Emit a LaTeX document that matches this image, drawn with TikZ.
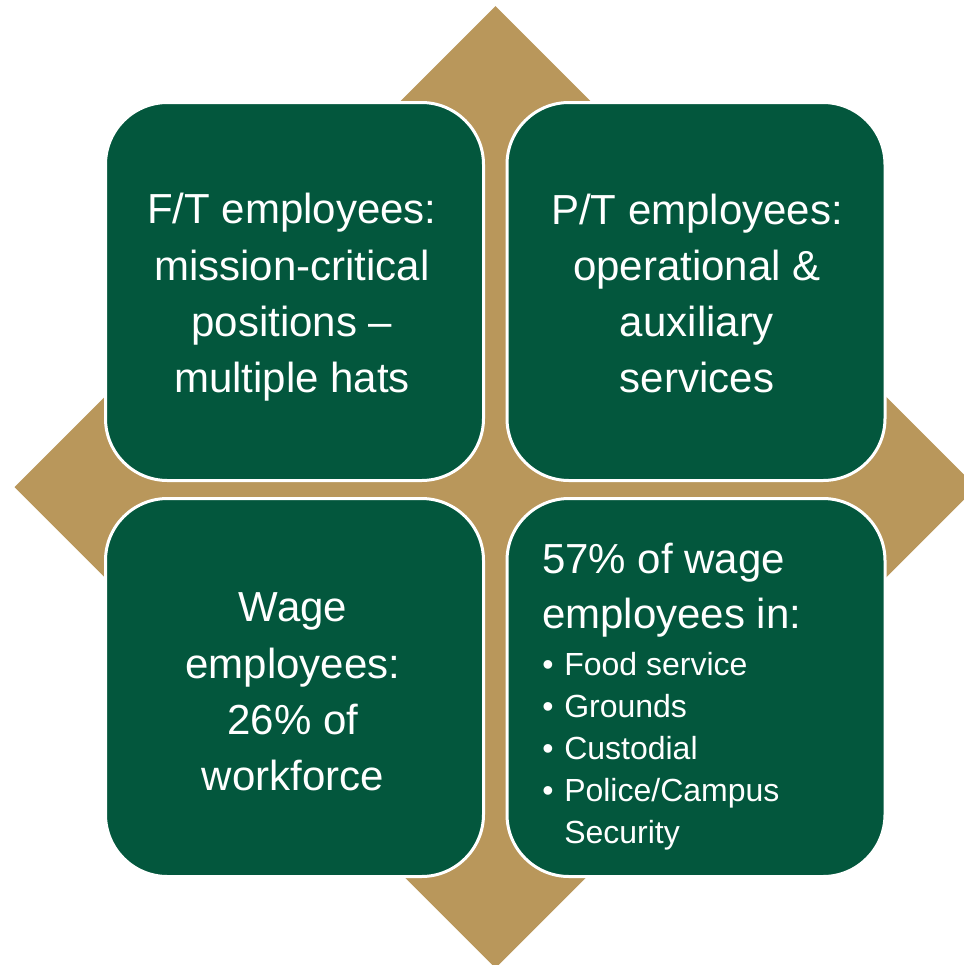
\documentclass[tikz,border=0pt]{standalone}
\usepackage{fontspec}
\setmainfont{Liberation Sans}
\definecolor{cellgreen}{RGB}{3,87,61}
\definecolor{gold}{RGB}{185,151,91}
\begin{document}
\begin{tikzpicture}[x=0.75pt,y=-0.75pt,
  cell/.style={draw=white, line width=2.25pt, fill=cellgreen,
    rounded corners=46.5pt, minimum width=283.5pt, minimum height=283.5pt,
    inner sep=0pt, outer sep=0pt},
  bigtext/.style={text=white, align=center, inner sep=0pt,
    font=\fontsize{31.5}{42.2}\selectfont},
]
\useasboundingbox (0,0) rectangle (964,965);
\clip (0,0) rectangle (964,965);

% gold diamond behind the four cells
\fill[gold] (495.5,6) -- (976.5,487) -- (495.5,968) -- (14.5,487) -- cycle;

% the four rounded cells
\node[cell] (tl) at (294.5,291.5) {};
\node[cell] (tr) at (696,291.5) {};
\node[cell] (bl) at (294.5,687.5) {};
\node[cell] (br) at (696,687.5) {};

% cell texts
\node[bigtext] (tltext) at (292,297.5) {F/T employees:\\mission-critical\\positions –\\multiple hats};
\node[bigtext] (trtext) at (697,293.5) {P/T employees:\\operational \&\\auxiliary\\services};
\node[bigtext] (bltext) at (293,692) {Wage\\employees:\\26\% of\\workforce};
\node[text=white, anchor=north west, inner sep=0pt, text width=255pt, align=left] (brtext) at (542,542.5) {%
  \spaceskip=0pt \xspaceskip=0pt
  {\fontsize{31.5}{41.25}\selectfont 57\% of wage\\employees in:\par}
  \vspace{3.75pt}
  {\fontsize{24}{31.5}\selectfont
  \makebox[16.5pt][l]{\textbullet}Food service\par
  \makebox[16.5pt][l]{\textbullet}Grounds\par
  \makebox[16.5pt][l]{\textbullet}Custodial\par
  \makebox[16.5pt][l]{\textbullet}Police/Campus\par
  \makebox[16.5pt][l]{}Security\par}};
\end{tikzpicture}
\end{document}
